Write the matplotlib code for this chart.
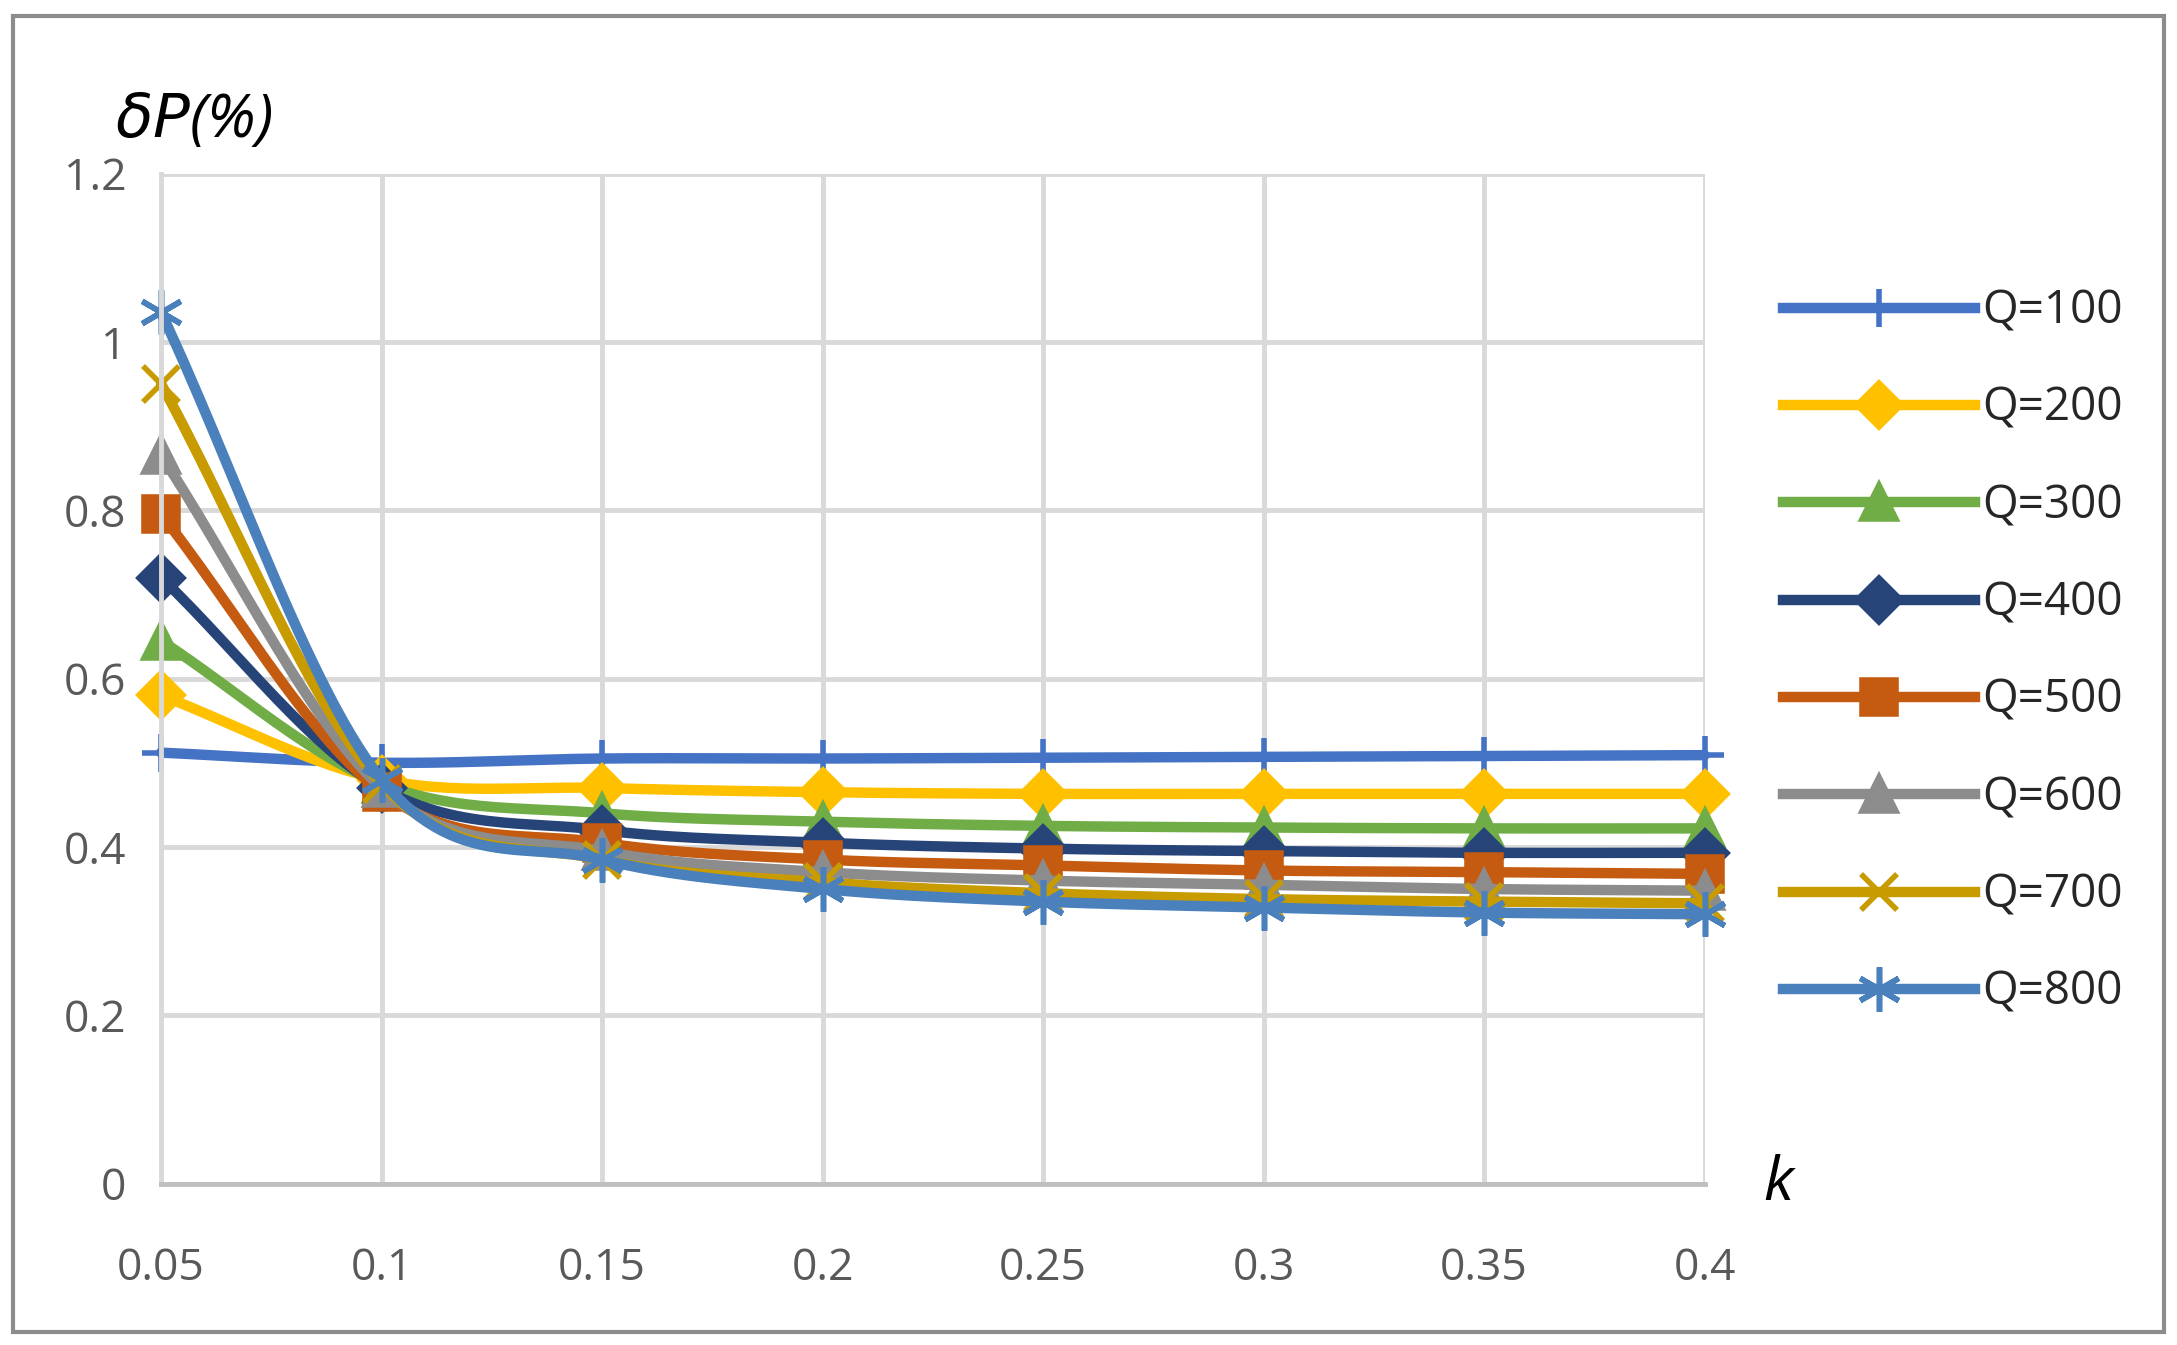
import numpy as np
import matplotlib.pyplot as plt

k = [0.05, 0.1, 0.15, 0.2, 0.25, 0.3, 0.35, 0.4]
labels = ['Q=100', 'Q=200', 'Q=300', 'Q=400', 'Q=500', 'Q=600', 'Q=700', 'Q=800']
q100 = [0.512, 0.5, 0.505, 0.505, 0.506, 0.507, 0.508, 0.509]
q200 = [0.58, 0.48, 0.47, 0.465, 0.463, 0.463, 0.463, 0.463]
q300 = [0.645, 0.475, 0.44, 0.43, 0.425, 0.423, 0.422, 0.422]
q400 = [0.72, 0.47, 0.42, 0.405, 0.398, 0.395, 0.393, 0.393]
q500 = [0.795, 0.465, 0.405, 0.385, 0.378, 0.372, 0.37, 0.368]
q600 = [0.865, 0.47, 0.395, 0.37, 0.36, 0.355, 0.35, 0.348]
q700 = [0.95, 0.475, 0.385, 0.358, 0.345, 0.338, 0.335, 0.333]
q800 = [1.035, 0.48, 0.385, 0.35, 0.335, 0.328, 0.322, 0.32]
series = [q100, q200, q300, q400, q500, q600, q700, q800]

colors = ['#4472C4', '#FFC000', '#70AD47', '#264478', '#C55A11', '#8C8C8C', '#C89B00', '#4A81BD']
markers = ['+', 'D', '^', 'D', 's', '^', 'x', (6, 2, 0)]
msizes = [28, 22, 24, 22, 24, 24, 26, 32]

plt.rcParams['font.family'] = ['Open Sans', 'DejaVu Sans']


def smooth(x, y, n=30):
    # catmull-rom, like Excel's smoothed lines
    x = np.asarray(x); y = np.asarray(y)
    px = np.concatenate([[2 * x[0] - x[1]], x, [2 * x[-1] - x[-2]]])
    py = np.concatenate([[2 * y[0] - y[1]], y, [2 * y[-1] - y[-2]]])
    xs, ys = [], []
    t = np.linspace(0, 1, n)
    for i in range(1, len(px) - 2):
        for p, out in ((px, xs), (py, ys)):
            p0, p1, p2, p3 = p[i - 1:i + 3]
            out.extend(0.5 * (2 * p1 + (-p0 + p2) * t + (2 * p0 - 5 * p1 + 4 * p2 - p3) * t ** 2
                              + (-p0 + 3 * p1 - 3 * p2 + p3) * t ** 3))
    return xs, ys


fig = plt.figure(figsize=(21.77, 13.45), dpi=100)
ax = fig.add_axes([0.074, 0.12, 0.709, 0.751])
for y, lab, c, m, ms in zip(series, labels, colors, markers, msizes):
    sx, sy = smooth(k, y)
    ax.plot(sx, sy, color=c, lw=7.5, solid_capstyle='round', clip_on=False)
    ax.plot(k, y, ls='none', marker=m, color=c, ms=ms, mew=4, clip_on=False)
    ax.plot([], [], color=c, lw=7.5, marker=m, ms=ms, mew=4, label=lab)

ax.set_xlim(0.05, 0.4)
ax.set_ylim(0, 1.2)
ax.set_xticks(k)
ax.set_xticklabels(['0.05', '0.1', '0.15', '0.2', '0.25', '0.3', '0.35', '0.4'])
ax.set_yticks([0, 0.2, 0.4, 0.6, 0.8, 1.0, 1.2])
ax.set_yticklabels(['0', '0.2', '0.4', '0.6', '0.8', '1', '1.2'])
ax.grid(True, color='#D9D9D9', lw=3.5)
ax.set_axisbelow(True)
for s in ['top', 'right']:
    ax.spines[s].set_visible(False)
ax.spines['left'].set_color('#D9D9D9')
ax.spines['left'].set_linewidth(3.5)
ax.spines['bottom'].set_color('#BFBFBF')
ax.spines['bottom'].set_linewidth(3.5)
ax.tick_params(length=0, labelsize=32, labelcolor='#595959', pad=25)
ax.tick_params(axis='x', pad=45)

fig.text(0.053, 0.91, r'$\delta P$(%)', fontsize=44, style='italic', ha='left', va='center')
fig.text(0.817, 0.12, 'k', fontsize=44, style='italic', ha='center', va='center')

leg = fig.legend(loc='center left', bbox_to_anchor=(0.8, 0.515), frameon=False, fontsize=33,
                 handlelength=4.2, labelspacing=1.12, handletextpad=0.15)
for t in leg.get_texts():
    t.set_color('#262626')

fig.add_artist(plt.Rectangle((0.006, 0.01), 0.988, 0.978, transform=fig.transFigure,
                             fill=False, ec='#8C8C8C', lw=3))
fig.savefig('out.png', dpi=100)
